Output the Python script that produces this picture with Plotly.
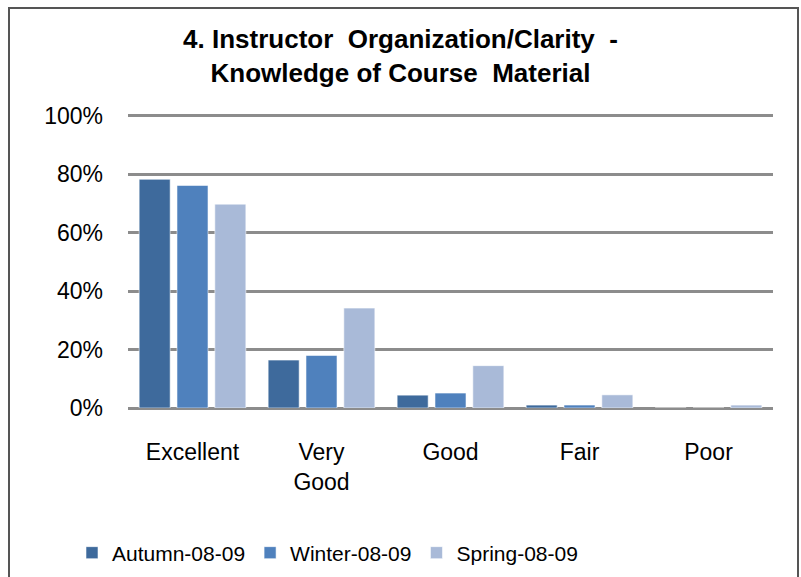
import plotly.graph_objects as go

# Survey response share by rating, three terms
categories = ["Excellent", "Very<br>Good", "Good", "Fair", "Poor"]
autumn = [78.3, 16.4, 4.4, 1.0, 0.0]
winter = [76.2, 18.0, 5.1, 1.0, 0.0]
spring = [69.8, 34.2, 14.5, 4.5, 1.0]
series_names = ["Autumn-08-09", "Winter-08-09", "Spring-08-09"]
series_colors = ["#3E6A9C", "#4F81BD", "#A9BAD8"]
y_ticks = [0, 20, 40, 60, 80, 100]
y_tick_text = ["0%", "20%", "40%", "60%", "80%", "100%"]

W, H = 801, 577
L, R, T, B = 128, 28, 113, 169
pw, ph = W - L - R, H - T - B
y_max = 101

fig = go.Figure()
for name, vals, col in zip(series_names, [autumn, winter, spring], series_colors):
    fig.add_trace(go.Bar(
        x=categories, y=vals, name=name,
        marker=dict(color=col, line=dict(color="rgba(255,255,255,0.55)", width=1)),
    ))

font_family = "Liberation Sans, Arial, sans-serif"

# outer frame: left, top and right edges
fx0, fx1 = (9 - L) / pw, (798 - L) / pw
fy_top = (H - B - 8) / ph
fy_bot = (H - B - 600) / ph
fig.add_shape(type="path", xref="paper", yref="paper",
              path=f"M {fx0} {fy_bot} L {fx0} {fy_top} L {fx1} {fy_top} L {fx1} {fy_bot}",
              line=dict(color="#555555", width=2))

fig.update_layout(
    width=W, height=H,
    margin=dict(l=L, r=R, t=T, b=B, pad=0, autoexpand=False),
    paper_bgcolor="white", plot_bgcolor="white",
    barmode="group", bargap=0.12, bargroupgap=0.18,
    font=dict(family=font_family, size=22, color="black"),
    title=dict(
        text="<b>4. Instructor  Organization/Clarity  -<br>Knowledge of Course  Material</b>",
        font=dict(family=font_family, size=26, color="black"),
        x=0.5, xref="container", xanchor="center",
        y=1 - 48 / H, yref="container", yanchor="top",
    ),
    xaxis=dict(showgrid=False, showline=False, ticks="", ticklabelstandoff=28,
               tickfont=dict(size=23)),
    yaxis=dict(range=[0, y_max], tickvals=y_ticks, ticktext=y_tick_text,
               showgrid=True, gridcolor="#8C8C8C", gridwidth=3,
               zeroline=True, zerolinecolor="#8C8C8C", zerolinewidth=3,
               showline=False, ticks="", ticklabelstandoff=24,
               tickfont=dict(size=23)),
    legend=dict(orientation="h", xref="container", yref="container",
                x=72 / W, xanchor="left",
                y=1 - 553 / H, yanchor="middle",
                font=dict(size=21), itemwidth=30, traceorder="normal"),
    showlegend=True,
)

fig.write_html("out.html")
